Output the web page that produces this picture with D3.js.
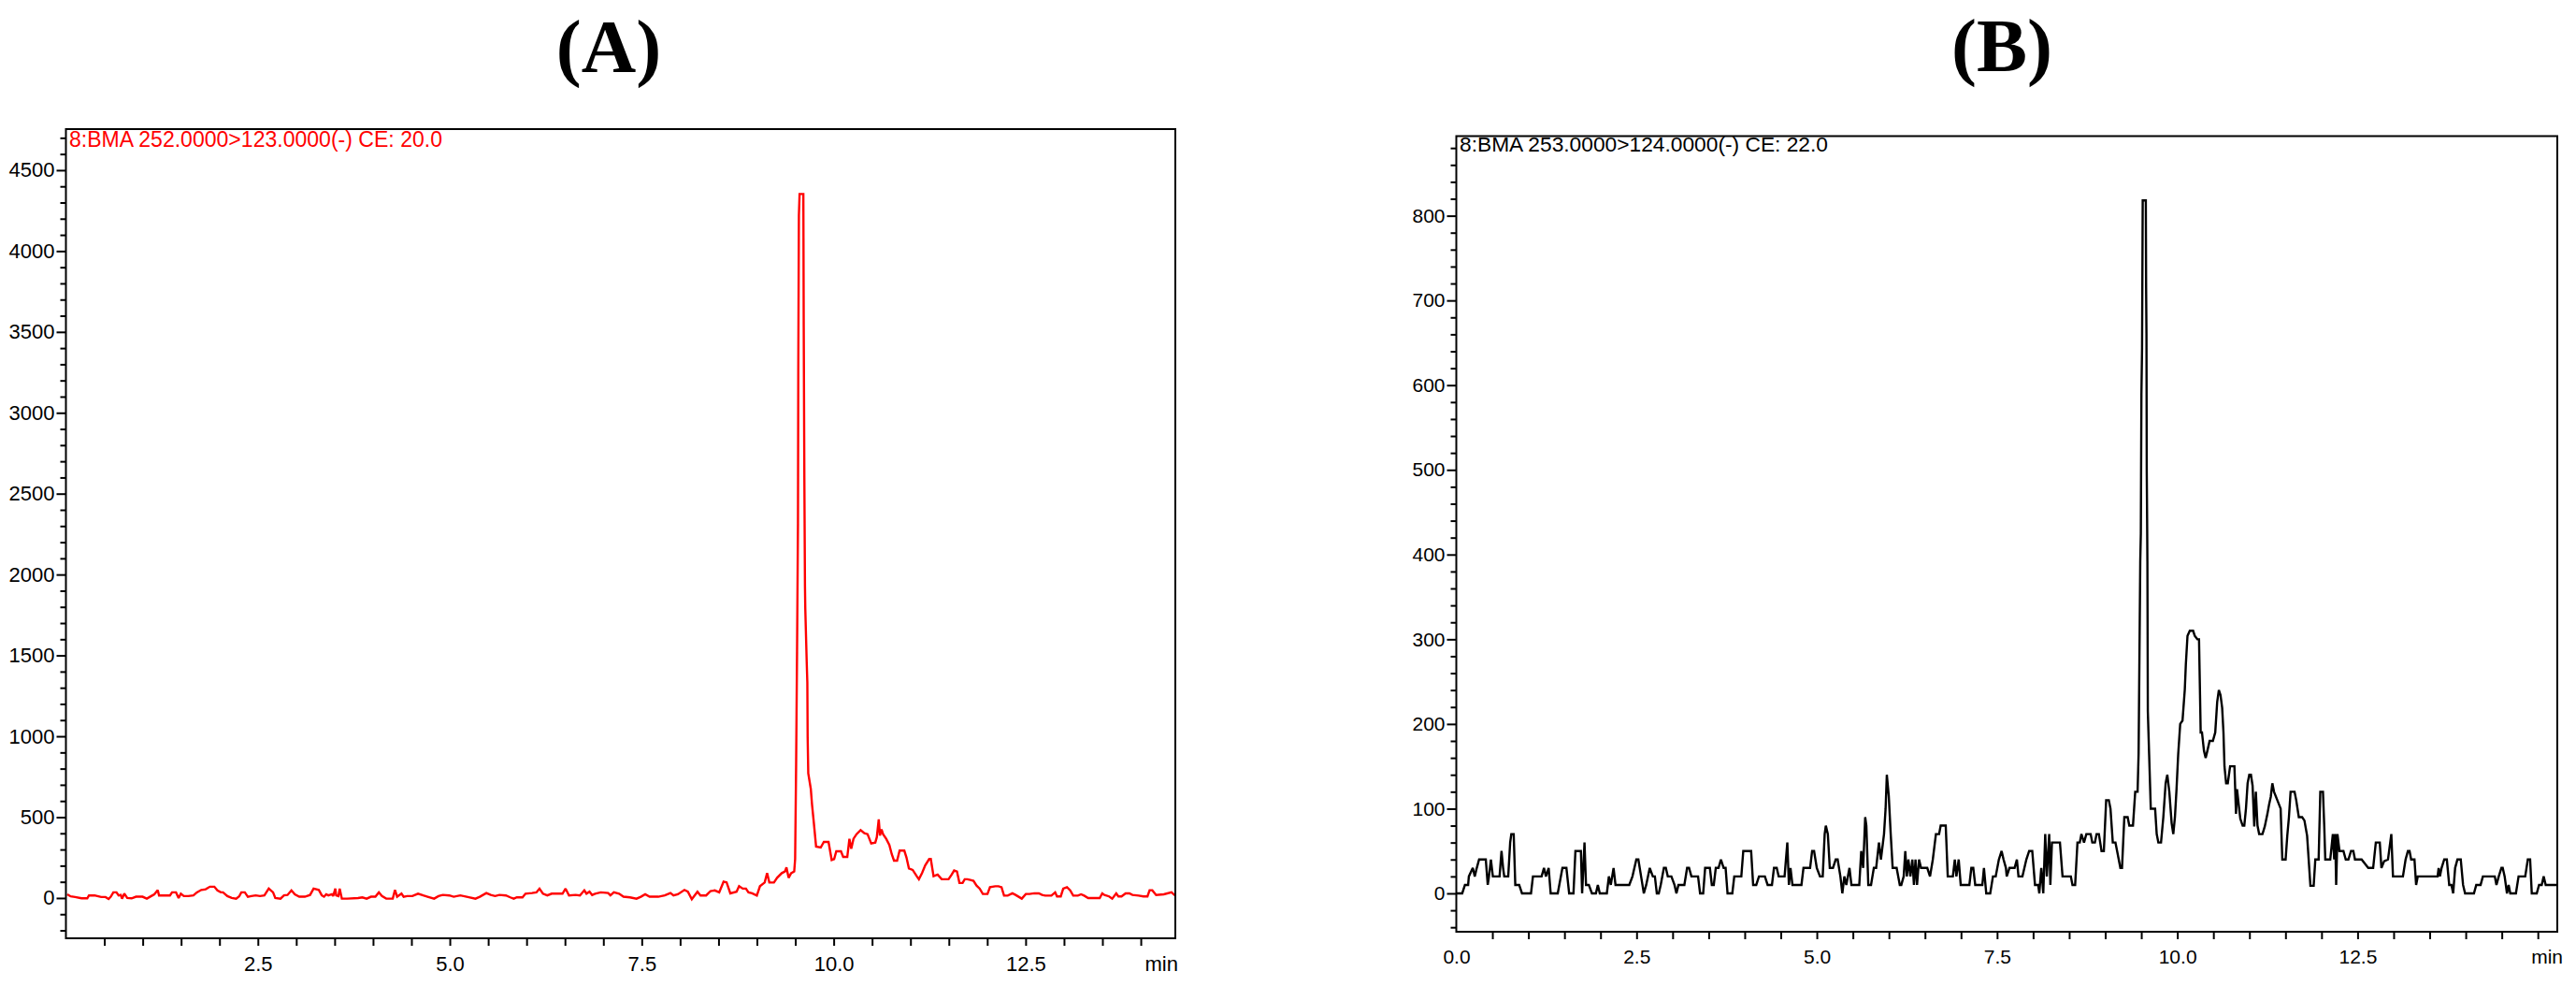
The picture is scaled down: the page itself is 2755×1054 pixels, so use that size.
<!DOCTYPE html>
<html><head><meta charset="utf-8">
<script src="https://cdn.jsdelivr.net/npm/d3@7"></script>
<style>
html,body{margin:0;padding:0;background:#fff;}
svg{display:block;}
text{font-family:"Liberation Sans",Arial,sans-serif;}
</style></head><body>
<svg id="chart" width="2755" height="1054"></svg>
<script>
// ---------- DATA ----------
const titles = ["(A)", "(B)"];
const headers = ["8:BMA 252.0000>123.0000(-) CE: 20.0", "8:BMA 253.0000>124.0000(-) CE: 22.0"];

// Panel A : retention time (min) / intensity
const timeA = [0.017,0.062,0.119,0.204,0.278,0.300,0.374,0.459,0.516,0.556,0.584,0.618,0.658,0.686,0.714,0.731,0.760,0.799,0.856,0.913,0.998,1.054,1.111,1.151,1.196,1.213,1.310,1.355,1.383,1.434,1.468,1.497,1.536,1.593,1.661,1.706,1.763,1.820,1.876,1.933,1.973,2.018,2.046,2.103,2.160,2.217,2.256,2.285,2.330,2.370,2.415,2.472,2.528,2.585,2.642,2.698,2.727,2.795,2.840,2.886,2.937,2.982,3.039,3.112,3.180,3.226,3.294,3.333,3.362,3.390,3.418,3.464,3.481,3.509,3.520,3.549,3.566,3.594,3.662,3.804,3.861,3.917,3.974,4.031,4.076,4.116,4.172,4.257,4.286,4.314,4.371,4.399,4.444,4.512,4.586,4.654,4.711,4.796,4.853,4.909,4.994,5.051,5.136,5.221,5.334,5.391,5.476,5.533,5.590,5.646,5.731,5.788,5.833,5.873,5.947,5.986,6.071,6.128,6.168,6.213,6.270,6.327,6.412,6.468,6.508,6.553,6.638,6.695,6.752,6.780,6.820,6.854,6.893,6.967,7.063,7.092,7.137,7.205,7.262,7.347,7.432,7.489,7.545,7.602,7.715,7.800,7.874,7.914,7.971,8.056,8.101,8.152,8.226,8.265,8.339,8.396,8.452,8.509,8.566,8.605,8.654,8.735,8.768,8.816,8.857,8.890,8.938,8.999,9.040,9.101,9.133,9.162,9.222,9.263,9.324,9.365,9.385,9.413,9.446,9.486,9.498,9.511,9.523,9.535,9.539,9.547,9.556,9.605,9.610,9.618,9.626,9.630,9.649,9.657,9.661,9.669,9.702,9.718,9.742,9.771,9.831,9.872,9.933,9.974,10.006,10.034,10.095,10.124,10.177,10.205,10.229,10.258,10.298,10.351,10.400,10.441,10.489,10.542,10.562,10.587,10.603,10.623,10.643,10.684,10.725,10.757,10.786,10.826,10.859,10.920,10.948,10.980,11.029,11.082,11.110,11.151,11.192,11.244,11.265,11.301,11.354,11.407,11.496,11.537,11.569,11.606,11.638,11.679,11.707,11.740,11.780,11.821,11.861,11.902,11.943,12.003,12.036,12.105,12.146,12.186,12.219,12.267,12.328,12.369,12.450,12.503,12.552,12.613,12.673,12.714,12.755,12.836,12.885,12.909,12.958,12.990,13.039,13.080,13.120,13.181,13.222,13.262,13.315,13.465,13.498,13.526,13.587,13.628,13.680,13.709,13.749,13.802,13.851,13.891,13.973,14.034,14.087,14.115,14.150,14.200,14.300,14.400,14.460];
const intensityA = [23,10,6,-2,-2,16,16,6,6,-6,8,35,35,16,19,-4,27,0,-2,8,8,-4,12,23,49,16,16,16,35,35,0,27,12,12,16,35,50,54,70,70,47,35,35,12,0,-4,10,35,35,8,12,16,12,16,58,35,0,-4,16,19,47,23,8,8,19,58,50,16,8,23,16,23,12,58,16,12,58,-4,-4,0,4,-4,8,8,35,12,-4,-4,50,8,27,8,12,12,27,16,8,-4,12,19,16,8,16,8,-4,8,31,19,12,19,16,4,-4,4,4,27,31,35,58,27,16,27,27,27,58,16,19,16,47,27,39,19,27,35,31,16,35,27,8,4,-4,8,23,8,8,16,31,16,23,50,39,-8,39,16,16,43,47,35,101,97,29,39,73,58,58,35,29,15,73,96,154,96,96,125,154,164,189,125,154,164,241,829,1523,2314,3270,4220,4353,4353,3530,2600,1930,1793,1456,1330,993,771,675,578,463,318,312,347,347,235,241,289,289,254,254,366,305,366,395,420,401,395,337,343,376,486,386,424,395,366,328,270,231,231,293,293,251,183,174,135,116,154,202,241,241,135,145,116,116,145,170,164,93,93,116,116,112,106,77,58,25,25,67,73,73,67,15,15,29,19,-4,25,25,29,29,19,15,15,35,10,10,58,67,48,15,15,23,15,0,0,29,19,10,-4,29,10,10,29,29,19,15,10,10,48,48,19,23,35,10];

// Panel B : retention time (min) / intensity
const timeB = [0.000,0.082,0.120,0.164,0.174,0.229,0.256,0.284,0.316,0.409,0.436,0.453,0.480,0.507,0.600,0.627,0.649,0.665,0.720,0.747,0.763,0.796,0.818,0.872,0.911,1.036,1.063,1.183,1.216,1.243,1.281,1.309,1.407,1.472,1.527,1.565,1.625,1.652,1.728,1.745,1.778,1.799,1.838,1.881,1.936,1.963,1.990,2.088,2.116,2.143,2.181,2.208,2.399,2.443,2.497,2.525,2.563,2.601,2.634,2.683,2.726,2.754,2.781,2.808,2.835,2.879,2.906,2.933,2.983,3.026,3.053,3.081,3.163,3.201,3.228,3.261,3.353,3.381,3.424,3.451,3.517,3.544,3.571,3.599,3.637,3.670,3.708,3.735,3.762,3.828,3.855,3.953,3.980,4.089,4.117,4.160,4.198,4.280,4.318,4.378,4.406,4.444,4.471,4.553,4.591,4.613,4.635,4.662,4.787,4.815,4.907,4.935,4.962,5.000,5.044,5.082,5.109,5.125,5.153,5.180,5.224,5.262,5.289,5.327,5.354,5.382,5.409,5.453,5.480,5.589,5.616,5.643,5.671,5.687,5.714,5.752,5.791,5.823,5.862,5.889,5.932,5.954,5.971,5.998,6.025,6.052,6.107,6.151,6.172,6.205,6.227,6.249,6.270,6.298,6.325,6.347,6.369,6.390,6.418,6.445,6.532,6.570,6.609,6.652,6.696,6.718,6.788,6.816,6.887,6.914,6.936,6.968,6.996,7.116,7.143,7.170,7.197,7.296,7.318,7.350,7.405,7.443,7.481,7.525,7.563,7.590,7.623,7.634,7.672,7.743,7.775,7.797,7.852,7.906,7.945,7.988,8.026,8.070,8.086,8.113,8.141,8.168,8.190,8.223,8.239,8.261,8.288,8.372,8.408,8.523,8.546,8.583,8.615,8.647,8.670,8.706,8.738,8.798,8.821,8.857,8.880,8.912,8.949,8.981,9.013,9.050,9.073,9.105,9.142,9.165,9.210,9.233,9.265,9.311,9.334,9.385,9.416,9.449,9.463,9.486,9.494,9.502,9.511,9.520,9.563,9.567,9.572,9.576,9.581,9.585,9.591,9.609,9.632,9.692,9.714,9.737,9.774,9.806,9.838,9.861,9.889,9.921,9.944,9.967,9.989,10.012,10.040,10.072,10.104,10.118,10.141,10.173,10.219,10.242,10.278,10.301,10.315,10.324,10.342,10.370,10.393,10.416,10.448,10.493,10.526,10.553,10.576,10.599,10.622,10.640,10.654,10.677,10.700,10.732,10.792,10.814,10.828,10.851,10.874,10.906,10.929,10.952,10.975,10.998,11.021,11.044,11.067,11.089,11.112,11.135,11.181,11.213,11.250,11.273,11.296,11.318,11.341,11.387,11.433,11.456,11.502,11.525,11.548,11.571,11.626,11.649,11.685,11.731,11.763,11.800,11.846,11.891,11.914,11.960,11.983,12.020,12.038,12.052,12.121,12.157,12.176,12.189,12.203,12.221,12.249,12.304,12.336,12.373,12.409,12.441,12.464,12.556,12.648,12.716,12.753,12.808,12.831,12.868,12.922,12.968,12.991,13.129,13.166,13.198,13.221,13.243,13.289,13.312,13.335,13.610,13.624,13.642,13.665,13.702,13.738,13.771,13.802,13.826,13.853,13.885,13.931,13.963,13.991,14.114,14.146,14.206,14.238,14.403,14.426,14.458,14.495,14.513,14.540,14.572,14.595,14.618,14.696,14.733,14.825,14.861,14.893,14.916,14.985,15.017,15.054,15.081,15.109,15.260];
const intensityB = [0,0,10,10,20,30,20,30,40,40,10,20,40,20,20,50,30,20,20,60,70,70,10,10,0,0,20,20,30,20,30,0,0,30,30,0,0,50,50,0,60,10,10,0,0,10,0,0,20,10,30,10,10,20,40,40,20,0,10,30,20,20,0,0,10,30,30,20,20,10,0,10,10,30,30,20,20,0,0,30,30,10,10,30,30,40,30,30,0,0,20,20,50,50,10,10,20,20,10,10,30,30,20,20,60,10,30,10,10,30,30,50,50,30,20,20,70,80,70,30,30,40,40,20,0,20,10,30,10,10,50,30,90,80,10,10,30,30,60,40,70,100,140,115,70,30,30,10,10,20,50,20,40,20,40,10,40,10,40,30,30,20,40,70,70,80,80,20,20,40,20,40,10,10,30,30,10,10,30,0,0,20,20,40,50,40,30,20,30,30,40,20,20,40,50,50,10,10,0,30,0,70,20,70,10,60,60,60,20,20,10,10,60,60,70,60,70,70,60,60,70,70,50,50,110,110,100,60,60,50,30,30,90,90,80,80,120,120,165,392,425,589,644,818,818,716,661,497,442,392,215,164,100,100,70,60,60,90,130,140,120,83,70,90,123,164,200,204,241,270,304,310,310,304,300,300,234,190,190,168,160,168,180,180,190,226,240,234,219,190,150,130,130,150,150,94,123,105,88,80,80,100,130,140,140,127,79,120,80,70,70,79,94,105,114,130,120,110,100,40,40,68,90,120,120,110,90,90,86,68,9,9,40,40,120,120,79,40,40,70,40,70,10,70,50,50,40,40,50,50,40,40,30,30,60,60,30,38,40,70,20,20,40,50,50,40,40,10,20,20,30,20,30,40,40,10,10,0,30,40,40,10,0,0,10,10,20,20,10,20,30,30,20,0,10,0,0,20,20,40,40,0,0,10,10,20,10,10];

// Axis ticks
const yLabelsA = [0,500,1000,1500,2000,2500,3000,3500,4000,4500];
const yLabelsB = [0,100,200,300,400,500,600,700,800];
const xLabelsA = [2.5,5.0,7.5,10.0,12.5];
const xLabelsB = [0.0,2.5,5.0,7.5,10.0,12.5];
const axisUnit = "min";

// ---------- LAYOUT ----------
const svg = d3.select("#chart");
const panels = [
  { time: timeA, values: intensityA, color: "#ff0000", title: titles[0], header: headers[0], headerColor: "#ff0000",
    left: 70.5, right: 1257, top: 138, bottom: 1003, xMax: 14.45, yMin: -249, yMax: 4754,
    yMajor: yLabelsA, yMinorStep: 100, xMajor: xLabelsA, xLast: 14.0,
    titleX: 651, titleY: 77, headerX: 74, headerY: 157, headerSize: 23, headerLen: 399,
    labelSize: 22, xLabelBase: 1038, minRight: 1260 },
  { time: timeB, values: intensityB, color: "#000000", title: titles[1], header: headers[1], headerColor: "#000000",
    left: 1557.5, right: 2735, top: 145.5, bottom: 996, xMax: 15.27, yMin: -45.3, yMax: 894,
    yMajor: yLabelsB, yMinorStep: 20, xMajor: xLabelsB, xLast: 15.0,
    titleX: 2141, titleY: 76, headerX: 1561, headerY: 162, headerSize: 22, headerLen: 394,
    labelSize: 21, xLabelBase: 1030, minRight: 2741 }
];

panels.forEach((p, i) => {
  const g = svg.append("g");
  const x = d3.scaleLinear().domain([0, p.xMax]).range([p.left, p.right]);
  const y = d3.scaleLinear().domain([p.yMin, p.yMax]).range([p.bottom, p.top]);

  // title
  g.append("text").attr("x", p.titleX).attr("y", p.titleY)
    .attr("text-anchor", "middle")
    .style("font-family", '"Liberation Serif","Times New Roman",serif')
    .style("font-weight", "bold").style("font-size", "81px")
    .text(p.title);

  // minor y ticks
  const majSet = new Set(p.yMajor);
  const minorY = d3.range(Math.ceil(p.yMin / p.yMinorStep) * p.yMinorStep, p.yMax, p.yMinorStep)
    .filter(v => !majSet.has(Math.round(v)));
  const yMinorAxis = d3.axisLeft(y).tickValues(minorY).tickSize(6).tickFormat("");
  const gym = g.append("g").attr("transform", `translate(${p.left},0)`).call(yMinorAxis);
  gym.select(".domain").remove();
  gym.selectAll("line").attr("stroke", "#000").attr("stroke-width", 2);

  // major y ticks + labels
  const yAxis = d3.axisLeft(y).tickValues(p.yMajor).tickSize(10).tickPadding(2).tickFormat(d3.format("d"));
  const gy = g.append("g").attr("transform", `translate(${p.left},0)`).call(yAxis);
  gy.select(".domain").remove();
  gy.selectAll("line").attr("stroke", "#000").attr("stroke-width", 2);
  gy.selectAll("text").attr("fill", "#000").style("font-size", p.labelSize + "px")
    .style("font-family", '"Liberation Sans",Arial,sans-serif');

  // x ticks every 0.5 min
  const xTicks = d3.range(0.5, p.xLast + 0.001, 0.5);
  const xAxis = d3.axisBottom(x).tickValues(xTicks).tickSize(8).tickFormat("");
  const gx = g.append("g").attr("transform", `translate(0,${p.bottom})`).call(xAxis);
  gx.select(".domain").remove();
  gx.selectAll("line").attr("stroke", "#000").attr("stroke-width", 2);

  // x labels
  const xLabAxis = d3.axisBottom(x).tickValues(p.xMajor).tickSize(0).tickFormat(d3.format(".1f"));
  const gxl = g.append("g").attr("transform", `translate(0,${p.bottom})`).call(xLabAxis);
  gxl.select(".domain").remove();
  gxl.selectAll("text").attr("dy", null).attr("y", p.xLabelBase - p.bottom)
    .attr("fill", "#000").style("font-size", p.labelSize + "px")
    .style("font-family", '"Liberation Sans",Arial,sans-serif');
  g.append("text").attr("x", p.minRight).attr("y", p.xLabelBase)
    .attr("text-anchor", "end").style("font-size", p.labelSize + "px").text(axisUnit);

  // clip + line
  const clipId = "clip" + i;
  svg.append("clipPath").attr("id", clipId).append("rect")
    .attr("x", p.left).attr("y", p.top).attr("width", p.right - p.left).attr("height", p.bottom - p.top);
  const data = p.time.map((t, k) => ({ t: t, v: p.values[k] }));
  const line = d3.line().x(d => x(d.t)).y(d => y(d.v));
  g.append("path").datum(data).attr("clip-path", `url(#${clipId})`)
    .attr("d", line).attr("fill", "none").attr("stroke", p.color)
    .attr("stroke-width", 2.4).attr("stroke-linejoin", "miter").attr("stroke-miterlimit", 2);

  // frame
  g.append("rect").attr("x", p.left).attr("y", p.top)
    .attr("width", p.right - p.left).attr("height", p.bottom - p.top)
    .attr("fill", "none").attr("stroke", "#000").attr("stroke-width", 2);

  // header
  g.append("text").attr("x", p.headerX).attr("y", p.headerY)
    .attr("fill", p.headerColor).style("font-size", p.headerSize + "px")
    .attr("textLength", p.headerLen).attr("lengthAdjust", "spacingAndGlyphs")
    .text(p.header);
});
</script>
</body></html>
